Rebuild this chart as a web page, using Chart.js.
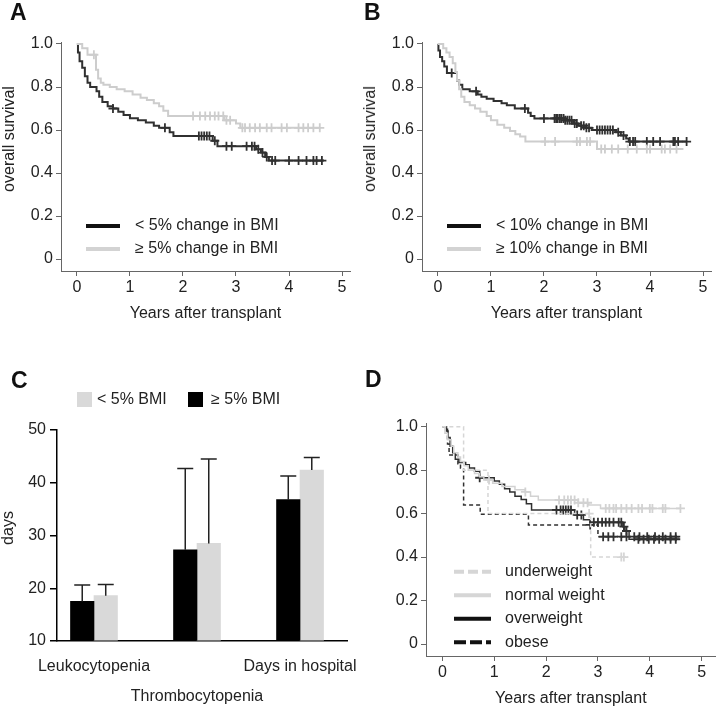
<!DOCTYPE html>
<html>
<head>
<meta charset="utf-8">
<script src="https://cdn.jsdelivr.net/npm/chart.js@4"></script>
<style>
  body { margin: 0; background: #fff; }
  #fig { position: relative; width: 722px; height: 708px; overflow: hidden; font-family: "Liberation Sans", Arial, sans-serif; color: #222; }
  canvas { position: absolute; }
  .panel { position: absolute; font-size: 23px; line-height: 23px; font-weight: bold; color: #111; }
  .ytitle { position: absolute; font-size: 16px; white-space: nowrap; transform: translate(-50%, -50%) rotate(-90deg); }
</style>
</head>
<body>
<div id="fig">
  <canvas id="chartA" width="361" height="330" style="left:0;top:0"></canvas>
  <canvas id="chartB" width="361" height="330" style="left:361px;top:0"></canvas>
  <canvas id="chartD" width="361" height="378" style="left:361px;top:330px"></canvas>
  <canvas id="chartC" width="380" height="378" style="left:0;top:330px"></canvas>
  <div class="panel" style="left:10px;top:1px">A</div>
  <div class="panel" style="left:364px;top:1px">B</div>
  <div class="panel" style="left:11px;top:369px">C</div>
  <div class="panel" style="left:365px;top:368px">D</div>
  <div class="ytitle" style="left:9px;top:139px">overall survival</div>
  <div class="ytitle" style="left:370px;top:139px">overall survival</div>
  <div class="ytitle" style="left:8px;top:528px">days</div>
</div>
<script>
// ---- shared axis ticks ----
const kmXTicks = [0, 1, 2, 3, 4, 5];
const kmYTicks = [0, 0.2, 0.4, 0.6, 0.8, 1.0];
const kmYLabels = ['0', '0.2', '0.4', '0.6', '0.8', '1.0'];

// ---- Panel A: < 5% vs >= 5% change in BMI ----
const aLowTime = [0, 0.02, 0.05, 0.1, 0.15, 0.2, 0.25, 0.37, 0.42, 0.48, 0.58, 0.68, 0.78, 0.88, 1.0, 1.15, 1.3, 1.45, 1.55, 1.75, 1.82, 2.56, 2.65, 3.38, 3.47, 3.55, 3.62, 4.66];
const aLowSurv = [1.0, 0.96, 0.92, 0.89, 0.85, 0.82, 0.80, 0.78, 0.755, 0.73, 0.71, 0.70, 0.685, 0.67, 0.655, 0.645, 0.635, 0.62, 0.61, 0.59, 0.572, 0.55, 0.525, 0.51, 0.495, 0.475, 0.458, 0.458];
const aLowCens = [0.68, 1.66, 2.3, 2.35, 2.4, 2.45, 2.5, 2.6, 2.82, 2.92, 3.2, 3.3, 3.35, 3.42, 3.5, 3.58, 3.68, 3.74, 4.0, 4.18, 4.33, 4.46, 4.52, 4.62];
const aHighTime = [0, 0.1, 0.2, 0.36, 0.4, 0.45, 0.5, 0.62, 0.75, 0.9, 1.05, 1.2, 1.32, 1.45, 1.55, 1.63, 1.72, 2.78, 3.0, 3.08, 4.58];
const aHighSurv = [1.0, 0.98, 0.95, 0.88, 0.84, 0.82, 0.81, 0.80, 0.79, 0.78, 0.765, 0.75, 0.74, 0.725, 0.71, 0.69, 0.665, 0.645, 0.63, 0.61, 0.61];
const aHighCens = [0.32, 2.19, 2.32, 2.42, 2.51, 2.6, 2.67, 2.76, 2.82, 2.89, 3.12, 3.17, 3.26, 3.36, 3.45, 3.58, 3.67, 3.86, 3.96, 4.18, 4.27, 4.36, 4.46, 4.58];

// ---- Panel B: < 10% vs >= 10% change in BMI ----
const bLowTime = [0, 0.01, 0.04, 0.08, 0.12, 0.17, 0.36, 0.4, 0.46, 0.6, 0.75, 0.82, 0.92, 1.05, 1.2, 1.3, 1.45, 1.7, 1.75, 1.82, 2.4, 2.55, 2.65, 2.8, 2.9, 3.35, 3.45, 3.55, 3.6, 4.69];
const bLowSurv = [1.0, 0.97, 0.94, 0.92, 0.895, 0.865, 0.83, 0.81, 0.79, 0.78, 0.765, 0.755, 0.745, 0.735, 0.725, 0.715, 0.70, 0.68, 0.665, 0.654, 0.645, 0.63, 0.62, 0.61, 0.60, 0.59, 0.575, 0.56, 0.546, 0.546];
const bLowCens = [0.26, 0.72, 1.64, 2.0, 2.2, 2.23, 2.26, 2.3, 2.33, 2.37, 2.4, 2.44, 2.48, 2.52, 2.58, 2.62, 2.7, 2.75, 2.8, 2.85, 3.0, 3.05, 3.1, 3.15, 3.2, 3.25, 3.3, 3.4, 3.5, 3.62, 3.68, 3.72, 3.94, 4.06, 4.19, 4.44, 4.47, 4.53, 4.69];
const bHighTime = [0, 0.1, 0.16, 0.22, 0.28, 0.33, 0.36, 0.4, 0.44, 0.5, 0.6, 0.7, 0.8, 0.92, 1.0, 1.12, 1.25, 1.36, 1.46, 1.55, 1.65, 3.0, 4.63];
const bHighSurv = [1.0, 0.98, 0.96, 0.94, 0.91, 0.87, 0.83, 0.79, 0.755, 0.73, 0.715, 0.70, 0.685, 0.665, 0.645, 0.625, 0.61, 0.595, 0.58, 0.57, 0.546, 0.512, 0.512];
const bHighCens = [2.02, 2.21, 2.62, 2.68, 2.81, 2.87, 3.08, 3.15, 3.28, 3.4, 3.58, 3.75, 3.94, 4.0, 4.22, 4.28, 4.38, 4.5];

// ---- Panel C: days, mean with upper error ----
const cCategories = ['Leukocytopenia', 'Thrombocytopenia', 'Days in hospital'];
const cHighMean = [17.5, 27.3, 36.8];   // >= 5% BMI (black)
const cHighErr = [20.6, 42.7, 41.3];
const cLowMean = [18.6, 28.5, 42.4];    // < 5% BMI (grey)
const cLowErr = [20.7, 44.5, 44.8];
const cYTicks = [10, 20, 30, 40, 50];

// ---- Panel D: BMI groups ----
const dUnderTime = [0, 0.41, 0.88, 2.86, 3.58];
const dUnderSurv = [1.0, 0.8, 0.6, 0.4, 0.4];
const dUnderCens = [2.83, 3.45, 3.5];
const dNormalTime = [0, 0.05, 0.1, 0.17, 0.22, 0.3, 0.35, 0.42, 0.5, 0.62, 0.72, 0.8, 0.97, 1.15, 1.4, 1.6, 1.7, 1.85, 2.62, 2.82, 3.05, 4.59];
const dNormalSurv = [1.0, 0.97, 0.94, 0.91, 0.88, 0.86, 0.84, 0.82, 0.80, 0.785, 0.77, 0.755, 0.74, 0.725, 0.71, 0.70, 0.68, 0.663, 0.65, 0.64, 0.624, 0.624];
const dNormalCens = [0.9, 1.6, 2.25, 2.35, 2.42, 2.48, 2.55, 2.62, 2.72, 2.8, 3.15, 3.22, 3.3, 3.35, 3.45, 3.55, 3.65, 3.78, 3.85, 4.0, 4.05, 4.25, 4.3, 4.59];
const dOverTime = [0.02, 0.08, 0.11, 0.15, 0.2, 0.25, 0.32, 0.45, 0.52, 0.62, 0.72, 1.0, 1.1, 1.2, 1.3, 1.4, 1.52, 1.62, 1.72, 2.55, 2.72, 2.85, 3.48, 3.52, 3.6, 4.57];
const dOverSurv = [1.0, 0.98, 0.95, 0.91, 0.88, 0.85, 0.835, 0.825, 0.81, 0.795, 0.765, 0.75, 0.735, 0.715, 0.70, 0.68, 0.665, 0.645, 0.617, 0.594, 0.572, 0.56, 0.54, 0.52, 0.482, 0.482];
const dOverCens = [0.72, 2.2, 2.28, 2.33, 2.38, 2.43, 2.48, 2.6, 2.68, 2.92, 3.0, 3.08, 3.15, 3.22, 3.3, 3.4, 3.45, 3.5, 3.55, 3.78, 3.88, 3.98, 4.08, 4.18, 4.3, 4.4, 4.5];
const dObeseTime = [0, 0.1, 0.13, 0.3, 0.35, 0.41, 0.73, 1.66, 3.0, 4.6];
const dObeseSurv = [1.0, 0.92, 0.87, 0.83, 0.81, 0.64, 0.597, 0.548, 0.494, 0.494];
const dObeseCens = [2.85, 3.1, 3.2, 3.3, 3.45, 3.55, 3.7, 3.8, 3.95, 4.1, 4.25, 4.4, 4.5];

const FONT = '"Liberation Sans", Arial, sans-serif';
const axisGray = '#666';
const dark = '#303030';
const light = '#cdcdcd';

Chart.defaults.font.family = FONT;
Chart.defaults.font.size = 16;
Chart.defaults.color = '#222';
Chart.defaults.animation = false;

// survival value of a step curve at time t (used to put censor marks on the curve)
function survAt(times, surv, t) {
    let s = surv[0];
    for (let i = 0; i < times.length; i++) {
        if (times[i] <= t) s = surv[i];
    }
    return s;
}

function kmDatasets(times, surv, cens, color, width, dash) {
    return [{
        data: times.map((t, i) => ({ x: t, y: surv[i] })),
        stepped: true,
        borderColor: color,
        borderWidth: width,
        borderDash: dash || [],
        pointRadius: 0,
        fill: false
    }, {
        data: cens.map(t => ({ x: t, y: survAt(times, surv, t) })),
        showLine: false,
        pointStyle: 'cross',
        pointRadius: 4.5,
        pointBorderWidth: 1.8,
        pointBorderColor: color,
        borderColor: color
    }];
}

// legend drawn on the canvas
const sketchLegend = {
    id: 'sketchLegend',
    afterDraw(chart, args, o) {
        const ctx = chart.ctx;
        ctx.save();
        ctx.font = '16px ' + FONT;
        ctx.textBaseline = 'middle';
        (o.rows || []).forEach((r, i) => {
            const y = o.y0 + i * o.gap;
            ctx.strokeStyle = r.color;
            ctx.lineWidth = 4;
            ctx.setLineDash(r.dash || []);
            ctx.beginPath();
            ctx.moveTo(o.x1, y);
            ctx.lineTo(o.x2, y);
            ctx.stroke();
            ctx.fillStyle = '#222';
            ctx.fillText(r.text, o.tx, y);
        });
        (o.boxes || []).forEach(b => {
            ctx.fillStyle = b.color;
            ctx.fillRect(b.x, o.y0 - 7.5, 15, 15);
            ctx.fillStyle = '#222';
            ctx.fillText(b.text, b.tx, o.y0);
        });
        ctx.restore();
    }
};

// upper error whiskers for panel C
const errorBars = {
    id: 'errorBars',
    afterDatasetsDraw(chart) {
        const ctx = chart.ctx;
        const yScale = chart.scales.y;
        chart.data.datasets.forEach((ds, i) => {
            if (!ds.errTop) return;
            chart.getDatasetMeta(i).data.forEach((bar, j) => {
                const top = yScale.getPixelForValue(ds.errTop[j]);
                ctx.save();
                ctx.strokeStyle = '#222';
                ctx.lineWidth = 1.5;
                ctx.beginPath();
                ctx.moveTo(bar.x, bar.y);
                ctx.lineTo(bar.x, top);
                ctx.moveTo(bar.x - 8, top);
                ctx.lineTo(bar.x + 8, top);
                ctx.stroke();
                ctx.restore();
            });
        });
    }
};

function kmScales(o) {
    const grid = { display: true, drawOnChartArea: false, tickLength: 5, color: axisGray, lineWidth: 1 };
    const border = { color: axisGray, width: 1 };
    return {
        x: {
            type: 'linear', min: o.xMin, max: o.xMax, offset: false,
            afterBuildTicks: s => { s.ticks = kmXTicks.map(v => ({ value: v })); },
            ticks: { padding: 2, autoSkip: false, maxRotation: 0, callback: v => String(v) },
            grid: grid, border: border,
            title: { display: true, text: 'Years after transplant', padding: 0, font: { size: 16 } },
            afterFit: s => { s.height = o.xHeight; }
        },
        y: {
            type: 'linear', min: o.yMin, max: o.yMax,
            afterBuildTicks: s => { s.ticks = kmYTicks.map(v => ({ value: v })); },
            ticks: { padding: 3, autoSkip: false, callback: (v, i) => kmYLabels[i] },
            grid: grid, border: border,
            afterFit: s => { s.width = o.yWidth; }
        }
    };
}

function kmChart(id, datasets, legend, padding, geo) {
    return new Chart(document.getElementById(id), {
        type: 'line',
        data: { datasets: datasets },
        options: {
            responsive: false,
            devicePixelRatio: 1,
            layout: { padding: padding },
            plugins: { legend: { display: false }, tooltip: { enabled: false }, sketchLegend: legend },
            scales: kmScales(geo)
        },
        plugins: [sketchLegend]
    });
}

const geoAB = { xMin: -0.3, xMax: 5.15, yMin: -0.0558, yMax: 1.0093, xHeight: 52, yWidth: 61 };
const padAB = { left: 0, top: 42, right: 11, bottom: 7 };

kmChart('chartA', [
    ...kmDatasets(aHighTime, aHighSurv, aHighCens, light, 2),
    ...kmDatasets(aLowTime, aLowSurv, aLowCens, dark, 2)
], {
    x1: 86, x2: 120, tx: 135, y0: 226, gap: 23,
    rows: [{ text: '< 5% change in BMI', color: '#111' }, { text: '≥ 5% change in BMI', color: '#d3d3d3' }]
}, padAB, geoAB);

kmChart('chartB', [
    ...kmDatasets(bHighTime, bHighSurv, bHighCens, light, 2),
    ...kmDatasets(bLowTime, bLowSurv, bLowCens, dark, 2)
], {
    x1: 86, x2: 120, tx: 135, y0: 226, gap: 23,
    rows: [{ text: '< 10% change in BMI', color: '#111' }, { text: '≥ 10% change in BMI', color: '#d3d3d3' }]
}, padAB, geoAB);

kmChart('chartD', [
    ...kmDatasets(dUnderTime, dUnderSurv, dUnderCens, '#d6d6d6', 1.5, [4, 3]),
    ...kmDatasets(dNormalTime, dNormalSurv, dNormalCens, '#d2d2d2', 1.5),
    ...kmDatasets(dOverTime, dOverSurv, dOverCens, dark, 1.5),
    ...kmDatasets(dObeseTime, dObeseSurv, dObeseCens, dark, 1.5, [4, 3])
], {
    x1: 93, x2: 130, tx: 144, y0: 241.7, gap: 23.5,
    rows: [
        { text: 'underweight', color: '#d6d6d6', dash: [10, 4] },
        { text: 'normal weight', color: '#d6d6d6' },
        { text: 'overweight', color: '#111' },
        { text: 'obese', color: '#111', dash: [12, 4] }
    ]
}, { left: 0, top: 93, right: 0, bottom: 0 },
{ xMin: -0.315, xMax: 5.27, yMin: -0.0552, yMax: 1.017, xHeight: 52, yWidth: 65 });

// ---- Panel C ----
new Chart(document.getElementById('chartC'), {
    type: 'bar',
    data: {
        datasets: [{
            label: '≥ 5% BMI',
            data: cHighMean.map((v, i) => ({ x: i + 1, y: v })),
            errTop: cHighErr,
            backgroundColor: '#000',
            base: 10,
            barThickness: 23.5
        }, {
            label: '< 5% BMI',
            data: cLowMean.map((v, i) => ({ x: i + 1, y: v })),
            errTop: cLowErr,
            backgroundColor: '#d9d9d9',
            base: 10,
            barThickness: 23.5
        }]
    },
    options: {
        responsive: false,
        devicePixelRatio: 1,
        layout: { padding: { left: 0, top: 100, right: 33, bottom: 0 } },
        plugins: {
            legend: { display: false },
            tooltip: { enabled: false },
            sketchLegend: {
                y0: 69.5,
                boxes: [
                    { x: 77, tx: 97, color: '#d9d9d9', text: '< 5% BMI' },
                    { x: 188, tx: 211, color: '#000', text: '≥ 5% BMI' }
                ]
            }
        },
        scales: {
            x: {
                type: 'linear', min: 0.641, max: 3.456, offset: false,
                afterBuildTicks: s => { s.ticks = cCategories.map((c, i) => ({ value: i + 1 })); },
                ticks: {
                    padding: 11, autoSkip: false, maxRotation: 0,
                    font: { size: 16, lineHeight: '30px' },
                    callback: (v, i) => i === 1 ? ['', cCategories[i]] : cCategories[i]
                },
                grid: { display: false, drawTicks: false },
                border: { color: '#000', width: 1.5 },
                afterFit: s => { s.height = 67; }
            },
            y: {
                type: 'linear', min: 10, max: 50,
                afterBuildTicks: s => { s.ticks = cYTicks.map(v => ({ value: v })); },
                ticks: { padding: 4, autoSkip: false },
                grid: { display: true, drawOnChartArea: false, tickLength: 7, color: '#000', lineWidth: 1.5 },
                border: { color: '#000', width: 1.5 },
                afterFit: s => { s.width = 57; }
            }
        }
    },
    plugins: [errorBars, sketchLegend]
});
</script>
</body>
</html>
